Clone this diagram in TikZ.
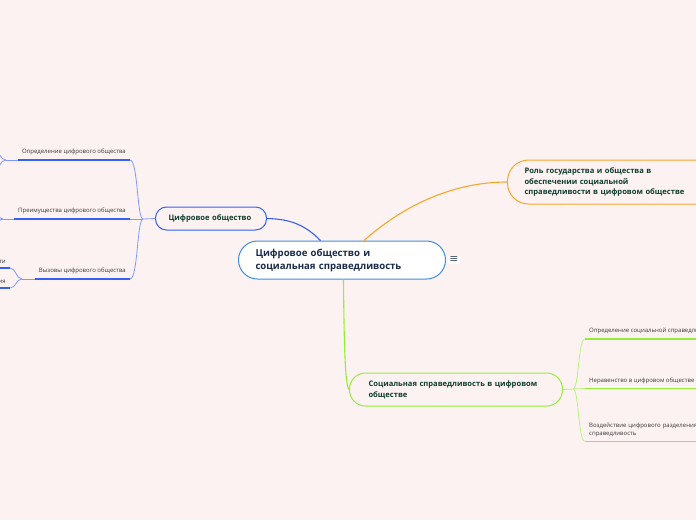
\documentclass[tikz,border=0pt]{standalone}
\usepackage{fontspec}
\setmainfont{Open Sans}
\newfontfamily\symfont{DejaVu Sans}
\usetikzlibrary{positioning}

\definecolor{bgpink}{HTML}{FDF2F2}
\definecolor{rootblue}{HTML}{3E8EDE}
\definecolor{roottext}{HTML}{1B2A4A}
\definecolor{topictext}{HTML}{0F3D2E}
\definecolor{leaftext}{HTML}{3A3A3A}
\definecolor{mainblue}{HTML}{3560F0}
\definecolor{thinblue}{HTML}{7F98FF}
\definecolor{mainorange}{HTML}{F8A62A}
\definecolor{maingreen}{HTML}{95EE35}
\definecolor{thingreen}{HTML}{B8F27C}

\begin{document}
\begin{tikzpicture}[
  x=1pt, y=-1pt,
  root/.style={draw=rootblue, line width=1pt, fill=white, rounded corners=19pt,
               align=left, inner sep=0pt, anchor=west, text=roottext,
               font=\bfseries\fontsize{9.6}{13}\selectfont},
  topic/.style={line width=1pt, fill=bgpink, align=left, inner sep=0pt,
                anchor=west, text=topictext,
                font=\bfseries\fontsize{7.6}{10.8}\selectfont},
  leaf/.style={font=\fontsize{6}{7.6}\selectfont, text=leaftext,
               inner xsep=4pt, inner ysep=4.5pt, align=left},
  blueline/.style={draw=mainblue, line width=1.1pt},
  bluethin/.style={draw=thinblue, line width=0.8pt},
  bluethick/.style={draw=mainblue, line width=1.7pt},
  greenthin/.style={draw=thingreen, line width=0.8pt},
  greenthick/.style={draw=maingreen, line width=1.7pt}
]
\useasboundingbox (0,0) rectangle (696,520);
\fill[bgpink] (0,0) rectangle (696,520);
\clip (0,0) rectangle (696,520);

%% nodes
\node[root, minimum width=207, minimum height=38, text width=173] (root) at (238,260)
  {Цифровое общество и\\социальная справедливость};
\node[fill=white, inner sep=1.5pt, text=roottext!80,
  font=\symfont\fontsize{11}{11}\selectfont] (menu) at (454,260) {≡};

\node[topic, draw=mainblue, rounded corners=11pt, minimum width=111,
  minimum height=23, text width=85] (dsoc) at (155,218.5) {Цифровое общество};
\node[topic, draw=mainorange, rounded corners=21pt, minimum width=215,
  minimum height=44, text width=181] (role) at (507,182)
  {Роль государства и общества в\\обеспечении социальной\\справедливости в цифровом обществе};
\node[topic, draw=maingreen, rounded corners=16pt, minimum width=213,
  minimum height=33, text width=175] (sj) at (349,389.5)
  {Социальная справедливость в цифровом\\обществе};

%% left leaves
\node[leaf, anchor=south east] (def) at (130,160) {Определение цифрового общества};
\node[leaf, anchor=south east] (adv) at (130,219) {Преимущества цифрового общества};
\node[leaf, anchor=south east] (chal) at (130,279) {Вызовы цифрового общества};
\node[leaf, anchor=south east] (ch1) at (10,268) {ти};
\node[leaf, anchor=south east] (ch2) at (10,288) {ия};

%% right leaves
\node[leaf, anchor=south west] (sdef) at (585,339) {Определение социальной справедливости};
\node[leaf, anchor=south west] (ineq) at (585,388.5) {Неравенство в цифровом обществе};
\node[leaf, anchor=south west, text width=160] (impact) at (585,441.5)
  {Воздействие цифрового разделения на социальную\\справедливость};

\coordinate (hubL) at (143,219);
\coordinate (hubR) at (573,389);
\coordinate (hubD) at (6,160);
\coordinate (hubA) at (3,219);
\coordinate (hubC) at (22,279);

%% main connectors
\draw[blueline] ([xshift=-21.5pt]root.north) .. controls (306,226) and (292,219) .. (dsoc.east);
\draw[draw=mainorange, line width=1.1pt] ([xshift=22pt]root.north)
  .. controls (405,204) and (455,182) .. (role.west);
\draw[draw=maingreen, line width=1.1pt] ([xshift=1.5pt]root.south)
  .. controls (344,340) and (345,386) .. (sj.west);

%% left branches
\draw[bluethin] (dsoc.west) -- (hubL);
\draw[bluethin] (hubL) .. controls (137,219) and (138,160) .. (def.south east);
\draw[bluethin] (hubL) -- (adv.south east);
\draw[bluethin] (hubL) .. controls (137,219) and (138,279) .. (chal.south east);
\draw[bluethick] (def.south west) -- (def.south east);
\draw[bluethick] (adv.south west) -- (adv.south east);
\draw[bluethick] (chal.south west) -- (chal.south east);

\draw[bluethin] (def.south west) -- (hubD);
\draw[bluethin] (hubD) to[out=180,in=0] (-6,151);
\draw[bluethin] (hubD) to[out=180,in=0] (-6,169);
\draw[bluethin] (adv.south west) -- (hubA);
\draw[bluethin] (hubA) to[out=180,in=0] (-6,213);
\draw[bluethin] (hubA) to[out=180,in=0] (-6,225);
\draw[bluethin] (chal.south west) -- (hubC);
\draw[bluethin] (hubC) .. controls (16,279) and (16,268) .. (ch1.south east);
\draw[bluethin] (hubC) .. controls (16,279) and (16,288) .. (ch2.south east);
\draw[bluethick] (ch1.south west) -- (ch1.south east);
\draw[bluethick] (ch2.south west) -- (ch2.south east);

%% right branches
\draw[greenthin] (sj.east) -- (hubR);
\draw[greenthin] (hubR) .. controls (579,389) and (578,339) .. (sdef.south west);
\draw[greenthin] (hubR) -- (ineq.south west);
\draw[greenthin] (hubR) .. controls (579,389) and (578,441.5) .. (impact.south west);
\draw[greenthick] (sdef.south west) -- ++(120,0);
\draw[greenthick] (ineq.south west) -- ++(120,0);
\draw[greenthick] (impact.south west) -- ++(120,0);
\end{tikzpicture}
\end{document}
